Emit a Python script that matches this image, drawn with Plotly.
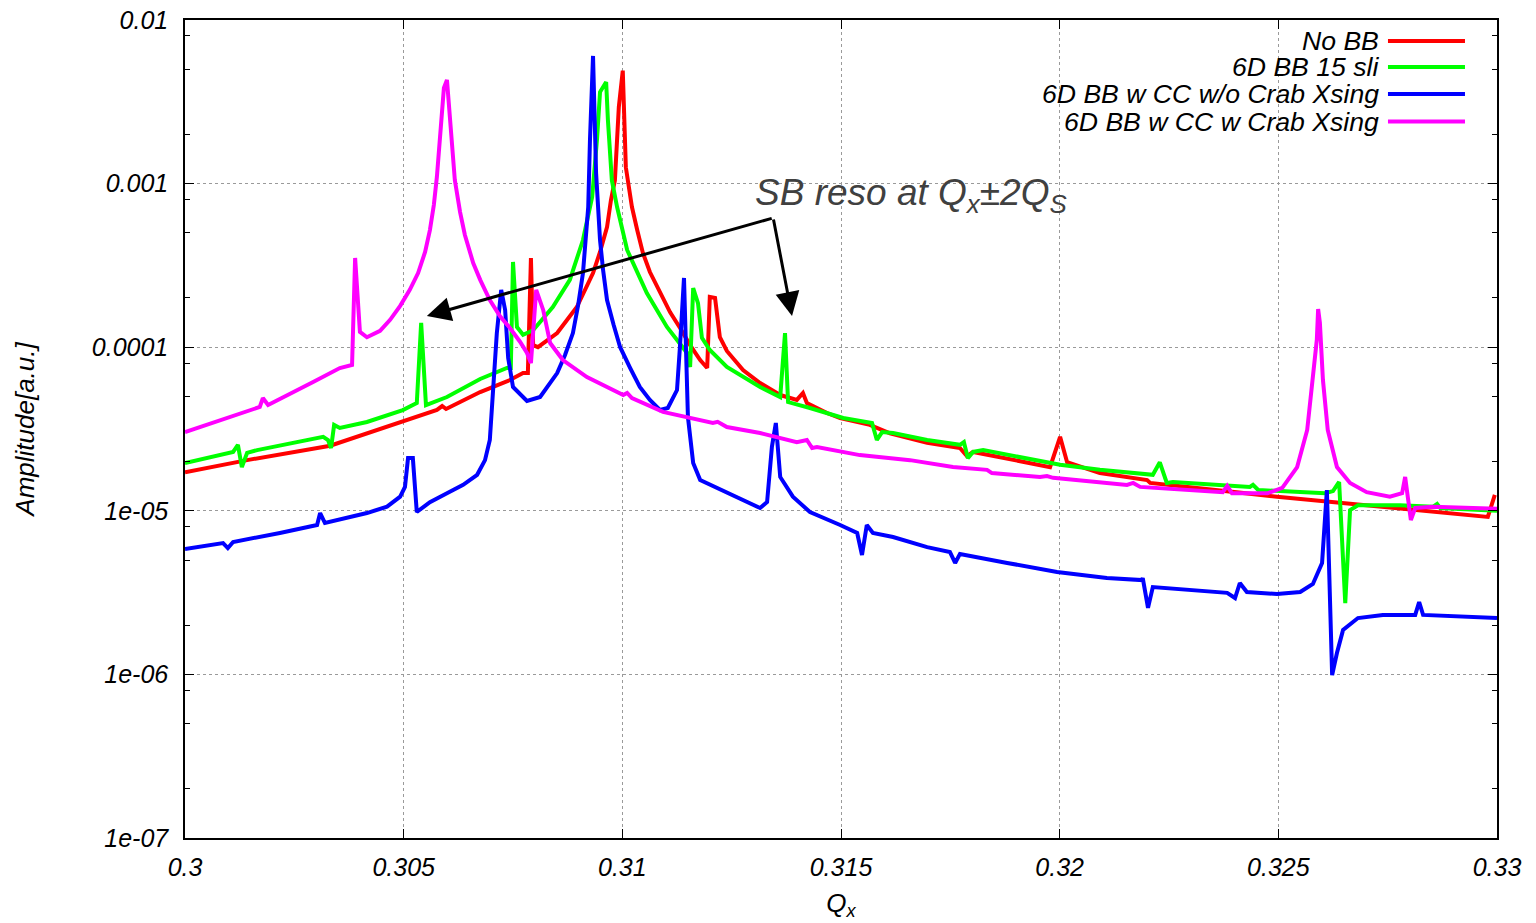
import plotly.graph_objects as go

# ---------------- data ----------------
q_nobb = [0.30000, 0.30142, 0.30332, 0.30496, 0.30576, 0.30588, 0.30597, 0.30675, 0.30743, 0.30773,
          0.30784, 0.30791, 0.30796, 0.30807, 0.30851, 0.30896, 0.30933, 0.30949, 0.30965, 0.30974,
          0.30983, 0.30992, 0.31001, 0.31008, 0.31022, 0.31034, 0.31047, 0.31063, 0.31086, 0.31109,
          0.31132, 0.31155, 0.31178, 0.31194, 0.31200, 0.31212,
          0.31223, 0.31239, 0.31276, 0.31315, 0.31361, 0.31399, 0.31413, 0.31422, 0.31468, 0.31498,
          0.31566, 0.31612, 0.31697, 0.31772, 0.31788, 0.31802, 0.31978, 0.32001, 0.32017, 0.32092,
          0.32200, 0.32207, 0.32497, 0.32625, 0.32778, 0.32979, 0.32995]
a_nobb = [1.72e-5, 2.04e-5, 2.50e-5, 3.49e-5, 4.14e-5, 4.37e-5, 4.19e-5, 5.32e-5, 6.30e-5, 6.95e-5,
          6.95e-5, 3.51e-4, 1.03e-4, 1.00e-4, 1.22e-4, 1.76e-4, 2.84e-4, 3.82e-4, 5.43e-4, 7.94e-4,
          1.05e-3, 2.94e-3, 4.90e-3, 1.26e-3, 7.19e-4, 5.20e-4, 3.77e-4, 2.88e-4, 2.14e-4, 1.64e-4,
          1.31e-4, 1.03e-4, 8.35e-5, 7.46e-5, 2.03e-4, 2.00e-4,
          1.15e-4, 9.48e-5, 7.25e-5, 6.04e-5, 5.10e-5, 4.76e-5, 5.25e-5, 4.56e-5, 3.96e-5, 3.69e-5,
          3.35e-5, 2.97e-5, 2.60e-5, 2.42e-5, 2.16e-5, 2.29e-5, 1.85e-5, 2.83e-5, 1.98e-5, 1.70e-5,
          1.54e-5, 1.48e-5, 1.22e-5, 1.13e-5, 1.03e-5, 9.17e-6, 1.25e-5]

q_bb15 = [0.30000, 0.30110, 0.30121, 0.30130, 0.30142, 0.30165, 0.30316, 0.30327, 0.30334, 0.30341,
          0.30354, 0.30416, 0.30498, 0.30530, 0.30540, 0.30551, 0.30599, 0.30675, 0.30736, 0.30745,
          0.30750, 0.30759, 0.30773, 0.30796, 0.30841, 0.30880, 0.30910, 0.30931, 0.30942, 0.30949,
          0.30963, 0.30967, 0.30976, 0.30988, 0.31011, 0.31056, 0.31102, 0.31148, 0.31155, 0.31162,
          0.31173, 0.31182, 0.31200, 0.31239, 0.31315, 0.31361, 0.31372, 0.31379, 0.31429, 0.31505,
          0.31571, 0.31582, 0.31594, 0.31619, 0.31697, 0.31772, 0.31781, 0.31790, 0.31802, 0.31825,
          0.32001, 0.32092, 0.32213, 0.32229, 0.32245, 0.32259, 0.32435, 0.32442, 0.32454, 0.32607,
          0.32625, 0.32639, 0.32653, 0.32664, 0.32682, 0.32778, 0.32854, 0.32863, 0.32870, 0.33000]
a_bb15 = [1.96e-5, 2.29e-5, 2.53e-5, 1.85e-5, 2.26e-5, 2.35e-5, 2.83e-5, 2.71e-5, 2.42e-5, 3.35e-5,
          3.21e-5, 3.49e-5, 4.13e-5, 4.56e-5, 1.41e-4, 4.43e-5, 4.96e-5, 6.39e-5, 7.46e-5, 7.46e-5,
          3.32e-4, 1.33e-4, 1.19e-4, 1.27e-4, 1.76e-4, 2.58e-4, 4.52e-4, 8.28e-4, 1.85e-3, 3.63e-3,
          4.18e-3, 2.45e-3, 1.05e-3, 7.19e-4, 3.93e-4, 2.14e-4, 1.33e-4, 9.22e-5, 7.57e-5, 2.30e-4,
          1.86e-4, 1.14e-4, 9.61e-5, 7.57e-5, 5.71e-5, 4.96e-5, 1.22e-4, 4.62e-5, 4.25e-5, 3.69e-5,
          3.44e-5, 2.71e-5, 3.03e-5, 2.99e-5, 2.71e-5, 2.53e-5, 2.63e-5, 2.10e-5, 2.29e-5, 2.35e-5,
          1.91e-5, 1.78e-5, 1.66e-5, 1.98e-5, 1.48e-5, 1.50e-5, 1.40e-5, 1.44e-5, 1.34e-5, 1.28e-5,
          1.32e-5, 1.50e-5, 2.73e-6, 1.01e-5, 1.08e-5, 1.08e-5, 1.06e-5, 1.10e-5, 1.04e-5, 1.00e-5]

q_cc_nox = [0.30000, 0.30087, 0.30098, 0.30110, 0.30217, 0.30302, 0.30309, 0.30320, 0.30416, 0.30462,
            0.30492, 0.30503, 0.30510, 0.30521, 0.30530, 0.30560, 0.30599, 0.30636, 0.30668, 0.30686,
            0.30697, 0.30704, 0.30713, 0.30723, 0.30732, 0.30739, 0.30750, 0.30782, 0.30812, 0.30851,
            0.30869, 0.30887, 0.30899, 0.30910, 0.30922, 0.30926, 0.30933, 0.30940, 0.30949, 0.30956,
            0.30965, 0.30980, 0.30995, 0.31018, 0.31040, 0.31063,
            0.31086, 0.31104, 0.31125, 0.31132, 0.31141, 0.31150, 0.31162, 0.31178, 0.31239, 0.31315,
            0.31331, 0.31342, 0.31351, 0.31361, 0.31390, 0.31429, 0.31498, 0.31537, 0.31548, 0.31559,
            0.31573, 0.31619, 0.31697, 0.31749, 0.31761, 0.31772, 0.31880, 0.31994, 0.32108, 0.32188,
            0.32190, 0.32202, 0.32213, 0.32383, 0.32401, 0.32412, 0.32428, 0.32497, 0.32550, 0.32579,
            0.32600, 0.32611, 0.32623, 0.32634, 0.32648, 0.32682, 0.32739, 0.32813, 0.32822, 0.32831,
            0.33000]
a_cc_nox = [5.84e-6, 6.35e-6, 5.92e-6, 6.45e-6, 7.32e-6, 8.19e-6, 9.69e-6, 8.42e-6, 9.69e-6, 1.06e-5,
            1.22e-5, 1.40e-5, 2.10e-5, 2.10e-5, 9.83e-6, 1.13e-5, 1.28e-5, 1.44e-5, 1.66e-5, 2.04e-5,
            2.71e-5, 5.25e-5, 1.22e-4, 2.24e-4, 1.69e-4, 8.59e-5, 5.71e-5, 4.69e-5, 4.96e-5, 6.95e-5,
            8.96e-5, 1.22e-4, 1.81e-4, 2.84e-4, 7.19e-4, 1.85e-3, 6.03e-3, 1.16e-3, 4.52e-4, 2.96e-4,
            1.94e-4, 1.37e-4, 1.00e-4, 7.46e-5, 5.71e-5, 4.76e-5,
            4.13e-5, 4.25e-5, 5.47e-5, 1.03e-4, 2.65e-4, 3.74e-5, 1.96e-5, 1.54e-5, 1.30e-5, 1.04e-5,
            1.13e-5, 2.46e-5, 3.44e-5, 1.61e-5, 1.22e-5, 9.83e-6, 8.19e-6, 7.32e-6, 5.37e-6, 8.19e-6,
            7.32e-6, 6.91e-6, 6.00e-6, 5.60e-6, 4.80e-6, 5.45e-6, 4.80e-6, 4.23e-6, 3.88e-6, 3.77e-6,
            3.88e-6, 2.55e-6, 3.42e-6, 3.15e-6, 2.93e-6, 3.62e-6, 3.19e-6, 3.10e-6, 3.19e-6, 3.57e-6,
            4.80e-6, 1.34e-5, 9.90e-7, 1.35e-6, 1.87e-6, 2.21e-6, 2.31e-6, 2.31e-6, 2.77e-6, 2.31e-6,
            2.21e-6]

q_cc_x = [0.30000, 0.30171, 0.30178, 0.30190, 0.30293, 0.30354, 0.30382, 0.30389, 0.30400, 0.30416,
          0.30446, 0.30469, 0.30492, 0.30514, 0.30533, 0.30549, 0.30560, 0.30569, 0.30576, 0.30583,
          0.30588, 0.30592, 0.30599, 0.30604, 0.30608, 0.30617, 0.30629, 0.30640, 0.30659, 0.30675,
          0.30697, 0.30720, 0.30743, 0.30766, 0.30782, 0.30791, 0.30803, 0.30819, 0.30835, 0.30864,
          0.30919, 0.30979, 0.31002, 0.31011, 0.31022, 0.31093, 0.31207, 0.31218, 0.31239, 0.31315,
          0.31399, 0.31422, 0.31434, 0.31445, 0.31543, 0.31658, 0.31756, 0.31834, 0.31845, 0.31955,
          0.31971, 0.31985, 0.32154, 0.32168, 0.32184, 0.32373, 0.32383, 0.32394, 0.32475, 0.32509,
          0.32543, 0.32566, 0.32579, 0.32588, 0.32591, 0.32595, 0.32602, 0.32613, 0.32634, 0.32664,
          0.32702, 0.32755, 0.32783, 0.32790, 0.32803, 0.32813, 0.32854, 0.33000]
a_cc_x = [3.03e-5, 4.31e-5, 4.89e-5, 4.43e-5, 6.13e-5, 7.46e-5, 7.78e-5, 3.51e-4, 1.24e-4, 1.15e-4,
          1.26e-4, 1.47e-4, 1.79e-4, 2.24e-4, 2.84e-4, 3.82e-4, 5.20e-4, 7.40e-4, 1.10e-3, 1.98e-3,
          3.24e-3, 3.84e-3, 4.30e-3, 3.02e-3, 1.98e-3, 1.05e-3, 6.70e-4, 4.85e-4, 3.27e-4, 2.58e-4,
          1.94e-4, 1.55e-4, 1.31e-4, 1.08e-4, 9.22e-5, 8.00e-5, 2.24e-4, 1.69e-4, 1.06e-4, 8.35e-5,
          6.57e-5, 5.47e-5, 5.10e-5, 5.25e-5, 4.89e-5, 4.02e-5, 3.44e-5, 3.50e-5, 3.25e-5, 2.99e-5,
          2.63e-5, 2.71e-5, 2.42e-5, 2.45e-5, 2.19e-5, 2.04e-5, 1.85e-5, 1.78e-5, 1.70e-5, 1.61e-5,
          1.63e-5, 1.59e-5, 1.44e-5, 1.48e-5, 1.40e-5, 1.30e-5, 1.42e-5, 1.28e-5, 1.28e-5, 1.38e-5,
          1.85e-5, 3.12e-5, 6.30e-5, 1.11e-4, 1.71e-4, 1.41e-4, 6.30e-5, 3.12e-5, 1.85e-5, 1.48e-5,
          1.30e-5, 1.22e-5, 1.28e-5, 1.61e-5, 8.78e-6, 1.04e-5, 1.06e-5, 1.03e-5]

series_names = ["No BB", "6D BB 15 sli", "6D BB w CC w/o Crab Xsing", "6D BB w CC w Crab Xsing"]
series_q = [q_nobb, q_bb15, q_cc_nox, q_cc_x]
series_a = [a_nobb, a_bb15, a_cc_nox, a_cc_x]
series_colors = ["#ff0000", "#00ff00", "#0000ff", "#ff00ff"]

x_tickvals = [0.3, 0.305, 0.31, 0.315, 0.32, 0.325, 0.33]
x_ticktext = ["0.3", "0.305", "0.31", "0.315", "0.32", "0.325", "0.33"]
y_tickvals = [1e-7, 1e-6, 1e-5, 1e-4, 1e-3, 1e-2]
y_ticktext = ["1e-07", "1e-06", "1e-05", "0.0001", "0.001", "0.01"]
y_minorvals = [m * 10.0 ** e for e in range(-7, -2) for m in (2, 5, 8)]

FONT = "Liberation Sans, Arial, sans-serif"

fig = go.Figure()
for name, q, a, c in zip(series_names, series_q, series_a, series_colors):
    fig.add_trace(go.Scatter(x=q, y=a, mode="lines", name=name, showlegend=False,
                             line=dict(color=c, width=4)))

axis_common = dict(
    automargin=False,
    showline=True, linecolor="black", linewidth=1.5, mirror="ticks",
    ticks="inside", ticklen=9, tickwidth=1.2, tickcolor="black",
    showgrid=True, gridcolor="#9a9a9a", griddash="dot", gridwidth=1,
    zeroline=False,
    tickfont=dict(family=FONT, size=25, color="black", style="italic"),
)

fig.update_layout(
    width=1536, height=923,
    margin=dict(l=185, r=39, t=20, b=85, autoexpand=False),
    paper_bgcolor="white", plot_bgcolor="white",
    showlegend=False,
    xaxis=dict(range=[0.3, 0.33], tickmode="array", tickvals=x_tickvals, ticktext=x_ticktext,
               ticklabelstandoff=6,
               title=dict(text="Q<sub>x</sub>", standoff=14,
                          font=dict(family=FONT, size=26, color="black", style="italic")),
               **axis_common),
    yaxis=dict(type="log", range=[-7, -2], tickmode="array", tickvals=y_tickvals, ticktext=y_ticktext,
               ticklabelstandoff=10,
               minor=dict(tickmode="array", tickvals=y_minorvals, ticks="inside", ticklen=5,
                          tickwidth=1.2, tickcolor="black", showgrid=False),
               title=dict(text="Amplitude[a.u.]", standoff=50,
                          font=dict(family=FONT, size=26, color="black", style="italic")),
               **axis_common),
)

# legend drawn gnuplot-style: right-aligned text with a line sample on its right
leg_y = [0.9743, 0.9425, 0.9095, 0.8759]
for name, c, yy in zip(series_names, series_colors, leg_y):
    fig.add_annotation(xref="paper", yref="paper", x=0.9108, y=yy, xanchor="right", yanchor="middle",
                       text=name, showarrow=False, borderpad=0,
                       font=dict(family=FONT, size=26.6, color="black", style="italic"))
    fig.add_shape(type="line", xref="paper", yref="paper", x0=0.9169, x1=0.9756, y0=yy, y1=yy,
                  line=dict(color=c, width=4))

# annotation text and arrows
fig.add_annotation(xref="x", yref="y", x=0.31298, y=-3.07, xanchor="left", yanchor="middle",
                   text="SB reso at Q<sub>x</sub>±2Q<sub>S</sub>", showarrow=False,
                   font=dict(family=FONT, size=37, color="#404040", style="italic"))
for hx in (0.30553, 0.31388):
    fig.add_annotation(xref="x", yref="y", x=hx, y=-3.809, axref="x", ayref="y",
                       ax=0.31345, ay=-3.21, text="", showarrow=True,
                       arrowhead=2, arrowsize=1.6, arrowwidth=3, arrowcolor="black", standoff=0)

fig.write_html("out.html")
